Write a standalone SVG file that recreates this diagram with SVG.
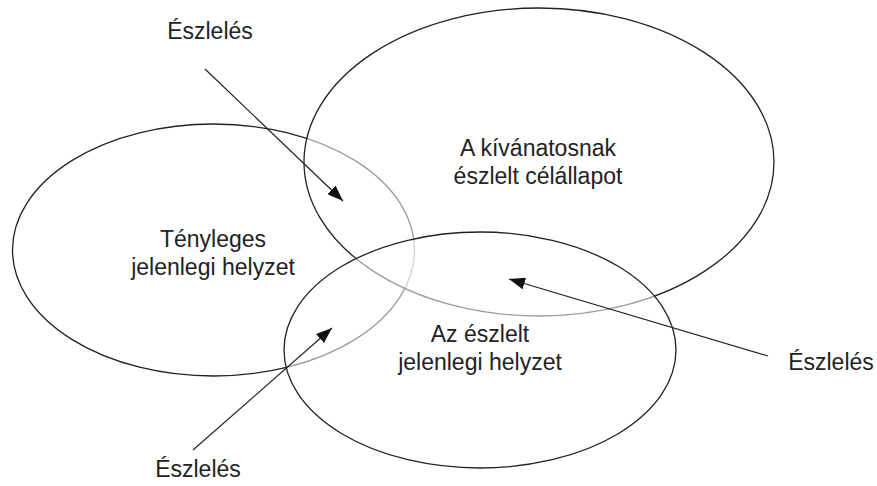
<svg xmlns="http://www.w3.org/2000/svg" width="877" height="486" viewBox="0 0 877 486">
  <defs>
    <marker id="arrow" viewBox="0 0 16 12" refX="16" refY="6" markerWidth="16" markerHeight="12" markerUnits="userSpaceOnUse" orient="auto">
      <path d="M0,0 L16,6 L0,12 Z" fill="#111"/>
    </marker>
  </defs>
  <style>
    .set { stroke: #222; stroke-width: 1.3; }
    .label { font-family: "Liberation Sans", Arial, sans-serif; font-size: 23px; fill: #222; text-anchor: middle; }
    .link { stroke: #222; stroke-width: 1.2; fill: none; marker-end: url(#arrow); }
  </style>
  <rect width="877" height="486" fill="#fff"/>

  <g id="actual">
    <ellipse class="set" cx="213.5" cy="250" rx="201" ry="126" fill="none"/>
    <text class="label" x="213" y="247">Tényleges</text>
    <text class="label" x="213" y="275">jelenlegi helyzet</text>
  </g>

  <g id="goal">
    <ellipse class="set" cx="539" cy="162" rx="235" ry="154" fill="#fff" fill-opacity="0.55"/>
    <text class="label" x="538" y="156">A kívánatosnak</text>
    <text class="label" x="538" y="184">észlelt célállapot</text>
  </g>

  <g id="perceived">
    <ellipse class="set" cx="480" cy="350" rx="196" ry="118" fill="#fff" fill-opacity="0.55"/>
    <text class="label" x="480" y="342">Az észlelt</text>
    <text class="label" x="480" y="370">jelenlegi helyzet</text>
  </g>

  <g id="perception-top">
    <text class="label" x="210" y="39">Észlelés</text>
  </g>
  <g id="perception-right">
    <text class="label" x="831" y="370">Észlelés</text>
  </g>
  <g id="perception-bottom">
    <text class="label" x="198" y="477">Észlelés</text>
  </g>

  <g id="connectors">
    <line class="link" x1="205" y1="69" x2="343" y2="201"/>
    <line class="link" x1="768" y1="356" x2="509" y2="279"/>
    <line class="link" x1="193" y1="450" x2="332" y2="328"/>
  </g>
</svg>
